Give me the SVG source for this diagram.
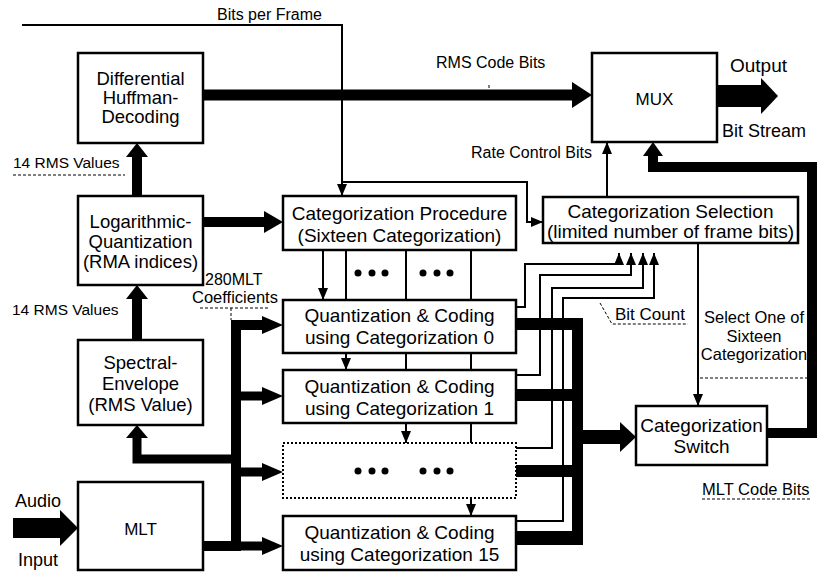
<svg xmlns="http://www.w3.org/2000/svg" width="817" height="572" viewBox="0 0 817 572">
<style>
.box{fill:#fff;stroke:#000;stroke-width:2.5}
.dot{fill:#fff;stroke:#000;stroke-width:2;stroke-dasharray:2 2}
.t{font-family:"Liberation Sans",Arial,sans-serif;font-size:19px;text-anchor:middle;fill:#000}
.s{font-size:18.5px}
.l{font-family:"Liberation Sans",Arial,sans-serif;font-size:16px;fill:#000}
.thin{fill:none;stroke:#000;stroke-width:2;marker-end:url(#ah)}
.ln{fill:none;stroke:#000;stroke-width:2}
.thk{fill:none;stroke:#000;stroke-linejoin:miter}
.dash{fill:none;stroke:#000;stroke-width:1;stroke-dasharray:3 2}
.hd{fill:#000}
</style>
<defs>
<marker id="ah" viewBox="0 0 12 10" markerWidth="12" markerHeight="10" refX="12" refY="5" orient="auto" markerUnits="userSpaceOnUse">
<path d="M0,0 L12,5 L0,10 z" fill="#000"/>
</marker>
</defs>
<rect width="817" height="572" fill="#fff"/>

<g id="connectors">
<!-- thin connectors -->
<path class="thin" d="M22,25 H342 V196"/>
<path class="thin" d="M342,182 H527 V222 H543"/>
<path class="thin" d="M607,197 V142"/>
<path class="thin" d="M698,243 V406"/>
<path class="thin" d="M323,250 V300"/>
<path class="thin" d="M346,250 V370"/>
<path class="thin" d="M406,250 V443"/>
<path class="thin" d="M471,250 V516"/>
<path class="thin" d="M516,307 H525 V264 H619 V253"/>
<path class="thin" d="M516,375 H540 V275 H631 V253"/>
<path class="thin" d="M516,448 H552 V288 H643 V253"/>
<path class="thin" d="M516,521 H563 V298 H654 V253"/>

<!-- thick connectors -->
<path class="thk" stroke-width="11" d="M203,95 H574"/>
<polygon class="hd" points="572,82 592,95 572,108"/>
<path class="thk" stroke-width="10" d="M203,222 H266"/>
<polygon class="hd" points="264,211 283,222 264,233"/>
<path class="thk" stroke-width="10" d="M137,340 V297"/>
<polygon class="hd" points="126,299 137,285 148,299"/>
<path class="thk" stroke-width="10" d="M137,196 V155"/>
<polygon class="hd" points="126,157 137,143 148,157"/>
<path class="thk" stroke-width="9" d="M236,459 H137 V436"/>
<polygon class="hd" points="126,438 137,425 148,438"/>
<path class="thk" stroke-width="10" d="M266,325 H236 V546 H203"/>
<path class="thk" stroke-width="9" d="M236,396 H266 M236,472 H266 M236,546 H266"/>
<polygon class="hd" points="262,316 283,325 262,334"/>
<polygon class="hd" points="262,387 283,396 262,405"/>
<polygon class="hd" points="262,463 283,472 262,481"/>
<polygon class="hd" points="262,537 283,546 262,555"/>
<rect class="hd" x="516" y="318" width="67" height="12"/>
<rect class="hd" x="516" y="389" width="67" height="12"/>
<rect class="hd" x="516" y="465" width="67" height="12"/>
<rect class="hd" x="516" y="531" width="67" height="14"/>
<rect class="hd" x="572" y="318" width="11" height="227"/>
<rect class="hd" x="583" y="430" width="39" height="14"/>
<polygon class="hd" points="620,422 636,437 620,452"/>
<path class="thk" stroke-width="10" d="M767,433 H812 V167 H653 V154"/>
<polygon class="hd" points="643,156 653,142 663,156"/>
<rect class="hd" x="717" y="85" width="46" height="22"/>
<polygon class="hd" points="761,78 778,96 761,114"/>
<rect class="hd" x="13" y="518" width="49" height="20"/>
<polygon class="hd" points="60,510 78,528 60,546"/>

<!-- dashed leader lines -->
<path class="dash" d="M13,175 H125"/>
<path class="dash" d="M489,85 V93"/>
<path class="dash" d="M200,308 H268 M231,308 V320"/>
<path class="dash" d="M600,303 L612,324 H688"/>
<path class="dash" d="M700,378 H808"/>
<path class="dash" d="M702,499 H810"/>

<!-- labels -->
<text class="l" x="217" y="20">Bits per Frame</text>
<text class="l" x="436" y="68">RMS Code Bits</text>
<text class="l" x="730" y="72" style="font-size:19px">Output</text>
<text class="l" x="722" y="137" style="font-size:18px">Bit Stream</text>
<text class="l" x="592" y="158" style="text-anchor:end">Rate Control Bits</text>
<text class="l" x="13" y="168" style="font-size:15.5px">14 RMS Values</text>
<text class="l" x="12" y="315" style="font-size:15.5px">14 RMS Values</text>
<text class="l" x="205" y="285">280MLT</text>
<text class="l" x="192" y="303" style="font-size:16.5px">Coefficients</text>
<text class="l" x="15" y="507" style="font-size:18px">Audio</text>
<text class="l" x="18" y="566" style="font-size:18px">Input</text>
<text class="l" x="615" y="320" style="font-size:17px">Bit Count</text>
<text class="l" x="754" y="323" style="font-size:16.5px;text-anchor:middle">Select One of</text>
<text class="l" x="754" y="342" style="font-size:16.5px;text-anchor:middle">Sixteen</text>
<text class="l" x="754" y="360" style="font-size:16.5px;text-anchor:middle">Categorization</text>
<text class="l" x="702" y="495" style="font-size:16.5px">MLT Code Bits</text>
</g>

<g id="diff-huffman">
<rect class="box" x="78" y="53" width="125" height="90"/>
<text class="t s" x="140.5" y="85">Differential</text>
<text class="t s" x="140.5" y="104">Huffman-</text>
<text class="t s" x="140.5" y="123">Decoding</text>
</g>
<g id="log-quant">
<rect class="box" x="78" y="196" width="125" height="89"/>
<text class="t s" x="140.5" y="228">Logarithmic-</text>
<text class="t s" x="140.5" y="248">Quantization</text>
<text class="t s" x="140.5" y="268">(RMA indices)</text>
</g>
<g id="spectral-envelope">
<rect class="box" x="78" y="340" width="125" height="85"/>
<text class="t s" x="140.5" y="369">Spectral-</text>
<text class="t s" x="140.5" y="390">Envelope</text>
<text class="t s" x="140.5" y="411">(RMS Value)</text>
</g>
<g id="mlt">
<rect class="box" x="78" y="482" width="125" height="88"/>
<text class="t" x="140.5" y="535" style="font-size:17px">MLT</text>
</g>
<g id="cat-procedure">
<rect class="box" x="283" y="196" width="233" height="54"/>
<text class="t" x="399.5" y="220">Categorization Procedure</text>
<text class="t" x="399.5" y="242">(Sixteen Categorization)</text>
</g>
<g id="dots-top">
<circle cx="358" cy="273" r="3.5"/><circle cx="372" cy="273" r="3.5"/><circle cx="385" cy="273" r="3.5"/>
<circle cx="423" cy="273" r="3.5"/><circle cx="437" cy="273" r="3.5"/><circle cx="450" cy="273" r="3.5"/>
</g>
<g id="qc0">
<rect class="box" x="283" y="300" width="233" height="53"/>
<text class="t" x="399.5" y="322">Quantization &amp; Coding</text>
<text class="t" x="399.5" y="344">using Categorization 0</text>
</g>
<g id="qc1">
<rect class="box" x="283" y="370" width="233" height="53"/>
<text class="t" x="399.5" y="393">Quantization &amp; Coding</text>
<text class="t" x="399.5" y="415">using Categorization 1</text>
</g>
<g id="qc-more">
<rect class="dot" x="283" y="443" width="233" height="55"/>
<circle cx="358" cy="471" r="3.5"/><circle cx="372" cy="471" r="3.5"/><circle cx="385" cy="471" r="3.5"/>
<circle cx="423" cy="471" r="3.5"/><circle cx="437" cy="471" r="3.5"/><circle cx="450" cy="471" r="3.5"/>
</g>
<g id="qc15">
<rect class="box" x="283" y="516" width="233" height="54"/>
<text class="t" x="399.5" y="539">Quantization &amp; Coding</text>
<text class="t" x="399.5" y="561">using Categorization 15</text>
</g>
<g id="cat-selection">
<rect class="box" x="543" y="197" width="255" height="46"/>
<text class="t" x="670.5" y="218">Categorization Selection</text>
<text class="t" x="670.5" y="238">(limited number of frame bits)</text>
</g>
<g id="mux">
<rect class="box" x="592" y="53" width="125" height="89"/>
<text class="t" x="654.5" y="105" style="font-size:17px">MUX</text>
</g>
<g id="cat-switch">
<rect class="box" x="636" y="406" width="131" height="59"/>
<text class="t" x="701.5" y="432">Categorization</text>
<text class="t" x="701.5" y="453">Switch</text>
</g>
</svg>
